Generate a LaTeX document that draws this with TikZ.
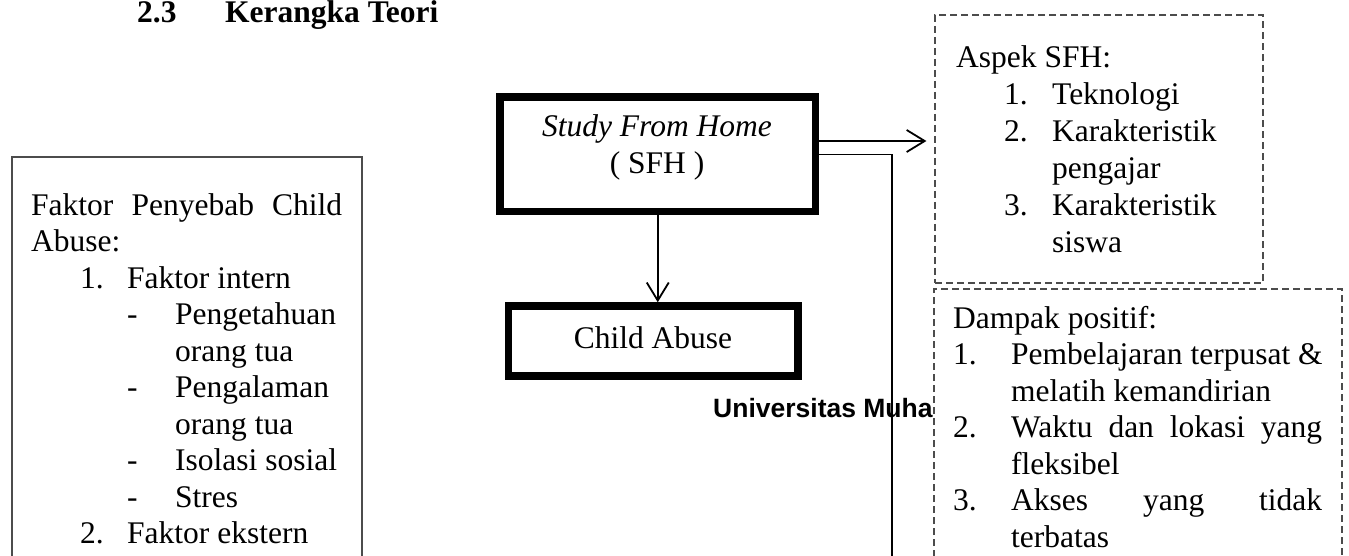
\documentclass[tikz,border=0pt]{standalone}
\usepackage{fontspec}
\setmainfont{Liberation Serif}
\newfontfamily\wmfont{Liberation Sans}
\usetikzlibrary{arrows.meta}
\newcommand\fsz{\fontsize{31.5pt}{36.7pt}\selectfont}
\tikzset{
  txt/.style={anchor=base west, inner sep=0pt, font=\fsz},
  ctxt/.style={anchor=base, inner sep=0pt, font=\fsz},
  thickbox/.style={draw=black, line width=7.5pt, inner sep=0pt},
  dbox/.style={draw=black!70, line width=1.2pt, dash pattern=on 7pt off 4pt},
  solidbox/.style={draw=black!70, line width=1.2pt},
  arr/.style={draw=black, line width=1.8pt, -{Straight Barb[length=18pt,width=22pt,line width=1.8pt]}},
  thin/.style={draw=black, line width=1.2pt}
}
\begin{document}
\begin{tikzpicture}[x=1pt,y=-1pt]
\useasboundingbox[fill=white] (0,0) rectangle (1349,556);
% title
\node[txt, font=\fsz\bfseries] (tnum) at (137,23) {2.3};
\node[txt, font=\fsz\bfseries] (ttl) at (225,23) {Kerangka Teori};

% left box (open at bottom)
\coordinate (lb1) at (12,557);
\coordinate (lb2) at (12,157);
\coordinate (lb3) at (362,157);
\coordinate (lb4) at (362,557);
\draw[solidbox] (lb1) -- (lb2) -- (lb3) -- (lb4);
\node[txt] (l1) at (31,215) {\makebox[311pt][s]{Faktor\hfill Penyebab\hfill Child}};
\node[txt] (l2) at (31,251.5) {Abuse:};
\node[txt] (l3) at (80,288) {\makebox[47pt][l]{1.}Faktor intern};
\node[txt] (l4) at (127,324.5) {\makebox[48pt][l]{-}Pengetahuan};
\node[txt] (l5) at (175,361) {orang tua};
\node[txt] (l6) at (127,397.5) {\makebox[48pt][l]{-}Pengalaman};
\node[txt] (l7) at (175,434) {orang tua};
\node[txt] (l8) at (127,470.5) {\makebox[48pt][l]{-}Isolasi sosial};
\node[txt] (l9) at (127,507) {\makebox[48pt][l]{-}Stres};
\node[txt] (l10) at (80,543.5) {\makebox[47pt][l]{2.}Faktor ekstern};

% watermark
\node[anchor=base west, inner sep=0pt, font=\wmfont\bfseries\fontsize{26.5pt}{30pt}\selectfont] (wm) at (713,417) {Universitas Muha};

% SFH box
\node[thickbox, minimum width=315.5pt, minimum height=114.5pt] (sfh) at (657.75,154.25) {};
\node[ctxt, font=\fsz\itshape] (sfh1) at (657,137) {Study From Home};
\node[ctxt] (sfh2) at (657,174) {( SFH )};

% Child Abuse box
\node[thickbox, minimum width=289.5pt, minimum height=70pt] (ca) at (653.25,341) {};
\node[ctxt] (cat) at (653,348) {Child Abuse};

% Aspek box
\node[dbox, minimum width=328pt, minimum height=268pt, inner sep=0pt] (asp) at (1099,149) {};
\node[txt] (a1) at (956,68) {Aspek SFH:};
\node[txt] (a2) at (1004,104.8) {\makebox[48pt][l]{1.}Teknologi};
\node[txt] (a3) at (1004,141.6) {\makebox[48pt][l]{2.}Karakteristik};
\node[txt] (a4) at (1052,178.4) {pengajar};
\node[txt] (a5) at (1004,215.2) {\makebox[48pt][l]{3.}Karakteristik};
\node[txt] (a6) at (1052,252) {siswa};

% Dampak box (open at bottom)
\coordinate (db1) at (934,557);
\coordinate (db2) at (934,289);
\coordinate (db3) at (1342,289);
\coordinate (db4) at (1342,557);
\draw[dbox] (db1) -- (db2) -- (db3) -- (db4);
\node[txt] (d1) at (953,328) {Dampak positif:};
\node[txt] (d2) at (953,364.5) {\makebox[58pt][l]{1.}Pembelajaran terpusat \&};
\node[txt] (d3) at (1011,401) {melatih kemandirian};
\node[txt] (d4) at (953,437.5) {\makebox[58pt][l]{2.}\makebox[311pt][s]{Waktu\hfill dan\hfill lokasi\hfill yang}};
\node[txt] (d5) at (1011,474) {fleksibel};
\node[txt] (d6) at (953,510.5) {\makebox[58pt][l]{3.}\makebox[311pt][s]{Akses\hfill yang\hfill tidak}};
\node[txt] (d7) at (1011,547) {terbatas};

% connectors
\draw[arr] (sfh.south) -- (sfh.south |- ca.north);
\coordinate (arrEnd) at ([xshift=-8pt]asp.west |- 0,141);
\draw[arr] (sfh.east |- arrEnd) -- (arrEnd);
\coordinate (lineEnd) at (892,557);
\draw[thin] (sfh.east) -| (lineEnd);
\end{tikzpicture}
\end{document}
